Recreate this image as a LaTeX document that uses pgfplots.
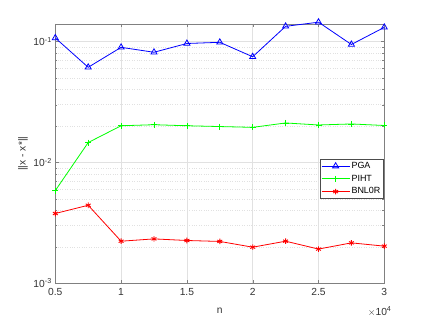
\documentclass[border=0pt]{standalone}
\usepackage{fontspec}
\setmainfont{Liberation Sans}
\usepackage{pgfplots}
\pgfplotsset{compat=1.18}
\definecolor{axgray}{RGB}{128,128,128}
\definecolor{gridgray}{RGB}{225,225,225}
\begin{document}
\begin{tikzpicture}[x=1bp,y=1bp]
\path[use as bounding box] (0,0) rectangle (425,319);
\begin{axis}[
  at={(55.3bp,35.7bp)}, anchor=south west,
  scale only axis, width=329bp, height=259.3bp,
  ymode=log,
  xmin=0.5, xmax=3, ymin=1e-3, ymax=0.1396,
  xtick={0.5,1,1.5,2,2.5,3},
  xticklabels={0.5,1,1.5,2,2.5,3},
  ytick={0.001,0.01,0.1},
  yticklabels={10\textsuperscript{-3},10\textsuperscript{-2},10\textsuperscript{-1}},
  tick label style={font=\fontsize{10.3}{12}\selectfont, text=black!80},
  xticklabel style={yshift=-1.5bp},
  /pgf/number format/assume math mode=true,
  tick align=inside,
  major tick length=3.5bp, minor tick length=2bp,
  axis line style={axgray},
  every tick/.style={axgray},
  xmajorgrids, ymajorgrids, yminorgrids,
  major grid style={gridgray, line width=0.5bp},
  minor grid style={gridgray, dotted, line width=0.6bp},
  xlabel={n}, ylabel={||x - x*||},
  label style={font=\fontsize{10.3}{12}\selectfont, text=black!80},
  xlabel style={at={(axis description cs:0.5,0)}, anchor=center, yshift=-27.5bp},
  ylabel style={at={(axis description cs:-0.0985,0.5)}, anchor=center},
  clip=false,
  legend style={at={(0.998,0.478)}, anchor=north east, font=\fontsize{9}{10}\selectfont,
    draw=black!70, fill=white, row sep=2bp, inner xsep=1.5bp, inner ysep=1.2bp,
    nodes={inner sep=1.5bp}},
  legend cell align=left,
  legend image code/.code={\draw[mark repeat=2,mark phase=2,#1] plot coordinates {(0bp,0bp) (14bp,0bp) (28bp,0bp)};},
]
\addplot[blue, line width=0.8bp, mark=triangle, mark size=3.5bp, mark options={solid, line width=0.8bp}]
coordinates {(0.5,0.107) (0.75,0.0612) (1,0.0895) (1.25,0.0815) (1.5,0.0963) (1.75,0.0985) (2,0.0748) (2.25,0.1335) (2.5,0.1445) (2.75,0.0945) (3,0.131)};
\addlegendentry{PGA}
\addplot[green, line width=0.8bp, mark=+, mark size=3bp, mark options={solid, line width=0.8bp}]
coordinates {(0.5,0.00585) (0.75,0.0146) (1,0.0201) (1.25,0.0205) (1.5,0.0201) (1.75,0.0198) (2,0.0195) (2.25,0.0212) (2.5,0.0204) (2.75,0.0208) (3,0.0202)};
\addlegendentry{PIHT}
\addplot[red, line width=0.8bp, mark=asterisk, mark size=2.8bp, mark options={solid, line width=0.9bp}]
coordinates {(0.5,0.00378) (0.75,0.00442) (1,0.00223) (1.25,0.00233) (1.5,0.00226) (1.75,0.00222) (2,0.00199) (2.25,0.00223) (2.5,0.00192) (2.75,0.00216) (3,0.00203)};
\addlegendentry{BNL0R}
\end{axis}
\node[anchor=base east, font=\fontsize{10.3}{12}\selectfont, text=black!80] at (395,4) {$\times$10\textsuperscript{4}};
\end{tikzpicture}
\end{document}
